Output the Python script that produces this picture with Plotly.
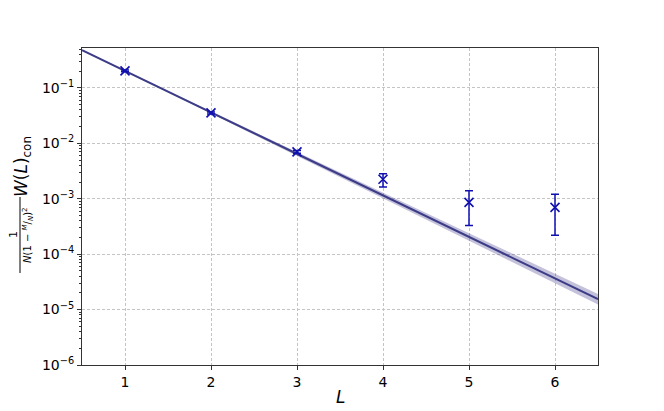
import numpy as np
import plotly.graph_objects as go

# data
L_vals = [1, 2, 3, 4, 5, 6]
W_vals = [0.203, 0.0354, 0.0070, 0.00225, 0.00086, 0.00070]
W_err_plus = [0.008, 0.0015, 0.0004, 0.00056, 0.00054, 0.00050]
W_err_minus = [0.008, 0.0015, 0.0004, 0.00062, 0.00053, 0.00048]

# fit: log10 W = fit_c + fit_b * (L - 1)
fit_c = -0.693
fit_b = -0.749
fit_dc = 0.006
fit_db = 0.017

y_tickvals = [1e-6, 1e-5, 1e-4, 1e-3, 1e-2, 1e-1]
y_ticktext = ["10<sup>−6</sup>", "10<sup>−5</sup>", "10<sup>−4</sup>",
              "10<sup>−3</sup>", "10<sup>−2</sup>", "10<sup>−1</sup>"]
x_tickvals = [1, 2, 3, 4, 5, 6]
y_minor = [m * 10.0 ** e for e in range(-6, 0) for m in range(2, 10)]

W_px, H_px = 664, 411
ml, mr, mt, mb = 82, 66, 48, 46
pw, ph = W_px - ml - mr, H_px - mt - mb

def px(x):
    return (x - ml) / pw

def py(y):
    return (H_px - mb - y) / ph

Lf = np.linspace(0.5, 6.5, 200)
logf = fit_c + fit_b * (Lf - 1)
band = np.sqrt(fit_dc ** 2 + (fit_db * (Lf - 1)) ** 2)

fig = go.Figure()
fig.add_trace(go.Scatter(x=Lf, y=10 ** (logf + band), mode="lines",
                         line=dict(width=0), hoverinfo="skip", showlegend=False))
fig.add_trace(go.Scatter(x=Lf, y=10 ** (logf - band), mode="lines",
                         line=dict(width=0), fill="tonexty",
                         fillcolor="rgba(72,61,139,0.32)",
                         hoverinfo="skip", showlegend=False))
fig.add_trace(go.Scatter(x=Lf, y=10 ** logf, mode="lines",
                         line=dict(color="#3c3c88", width=2), showlegend=False))
fig.add_trace(go.Scatter(
    x=L_vals, y=W_vals, mode="markers",
    marker=dict(symbol="x-thin", size=9, line=dict(color="#1010b0", width=1.6)),
    error_y=dict(type="data", symmetric=False, array=W_err_plus,
                 arrayminus=W_err_minus, color="#1010b0", thickness=1.5, width=4),
    showlegend=False))

axis_common = dict(showline=True, linecolor="#333333", linewidth=1, mirror=True,
                   gridcolor="#c4c4c4", griddash="3px,2px", gridwidth=0.8,
                   ticks="outside", ticklen=4, tickcolor="#333333",
                   tickfont=dict(family="DejaVu Sans", size=14, color="black"),
                   zeroline=False)

fig.update_xaxes(range=[0.5, 6.5], tickvals=x_tickvals, **axis_common)
fig.update_yaxes(type="log", range=[-6, -0.28], tickvals=y_tickvals,
                 ticktext=y_ticktext,
                 minor=dict(tickvals=y_minor, ticks="outside", ticklen=2,
                            tickcolor="#333333", showgrid=False),
                 **axis_common)

def rot(text, x, y, size):
    fig.add_annotation(text=text, xref="paper", yref="paper", x=px(x), y=py(y),
                       xanchor="center", yanchor="middle", showarrow=False,
                       textangle=-90,
                       font=dict(family="DejaVu Sans", size=size, color="black"))

fig.add_annotation(text="<i>L</i>", xref="paper", yref="paper",
                   x=px(340), y=py(397), xanchor="center", yanchor="middle",
                   showarrow=False,
                   font=dict(family="DejaVu Sans", size=17, color="black"))
rot("<i>W</i>(<i>L</i>)<sub>con</sub>", 22, 167, 17)
rot("1", 13, 235, 11)
rot("<i>N</i>(1 − <sup><i>M</i></sup>/<sub><i>N</i></sub>)<sup>2</sup>", 28, 235, 10)
fig.add_shape(type="line", xref="paper", yref="paper",
              x0=px(20), x1=px(20), y0=py(197), y1=py(273),
              line=dict(color="black", width=1))

fig.update_layout(width=W_px, height=H_px,
                  margin=dict(l=ml, r=mr, t=mt, b=mb),
                  paper_bgcolor="white", plot_bgcolor="white",
                  font=dict(family="DejaVu Sans"))

fig.write_html("out.html", config={"displayModeBar": False},
               post_script="document.body.style.margin='0';document.body.style.overflow='hidden';")
